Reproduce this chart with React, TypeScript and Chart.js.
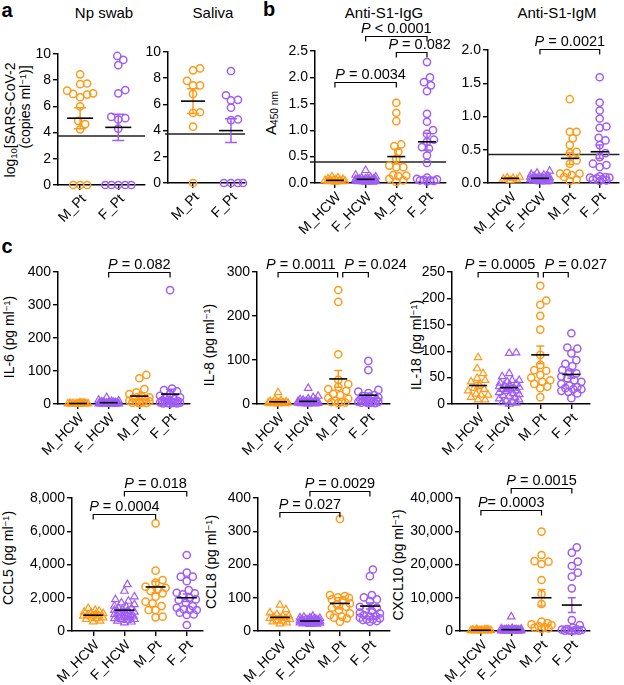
import React, { useEffect, useRef } from "react";
import { Chart, registerables } from "chart.js";
Chart.register(...registerables);

const FONT = "'Liberation Sans', Arial, Helvetica, sans-serif";
const ORANGE = "#FF9A17";
const PURPLE = "#9F5CF6";

const GROUPS_A = ["M_Pt", "F_Pt"];
const GROUPS_C = ["M_HCW", "F_HCW", "M_Pt", "F_Pt"];

// ---- a: viral load log10 copies/ml ----
const NP_M_PT = [8.45, 7.7, 7.75, 7.2, 7.0, 6.95, 6.9, 6.7, 6.0, 4.9, 4.65, 4.25, 0, 0, 0];
const NP_F_PT = [9.85, 9.55, 9.15, 7.25, 7.0, 5.2, 5.1, 5.0, 4.3, 0, 0, 0, 0, 0];
const NP_MEAN = [5.1, 4.4];
const NP_SEM = [0.8, 1.0];
const SAL_M_PT = [8.75, 8.6, 7.8, 7.45, 7.45, 6.8, 5.4, 5.35, 4.3, 0];
const SAL_F_PT = [8.55, 6.7, 6.35, 6.3, 5.75, 4.85, 4.8, 0, 0, 0, 0];
const SAL_MEAN = [6.25, 4.0];
const SAL_SEM = [0.95, 0.9];

// ---- b: antibodies A450 ----
const IGG_M_HCW = [0.02, 0.03, 0.04, 0.05, 0.06, 0.03, 0.08, 0.1, 0.05, 0.04, 0.07, 0.12, 0.06, 0.03, 0.05];
const IGG_F_HCW = [0.02, 0.03, 0.04, 0.05, 0.06, 0.07, 0.08, 0.03, 0.05, 0.1, 0.12, 0.04, 0.06, 0.08, 0.15, 0.24, 0.03, 0.05, 0.07, 0.09, 0.02, 0.04, 0.06, 0.11, 0.05, 0.03, 0.08, 0.06];
const IGG_M_PT = [1.52, 1.33, 1.17, 0.73, 0.7, 0.59, 0.46, 0.33, 0.3, 0.3, 0.14, 0.13, 0.15, 0.08, 0.05, 0.02];
const IGG_F_PT = [2.29, 2.0, 1.91, 1.85, 1.74, 1.31, 1.16, 1.0, 0.93, 0.82, 0.78, 0.68, 0.65, 0.52, 0.38, 0.1, 0.08, 0.06, 0.05, 0.04, 0.03, 0.05, 0.07];
const IGG_MEAN = [0.05, 0.07, 0.5, 0.78];
const IGG_SEM = [0.01, 0.01, 0.14, 0.16];

const IGM_M_HCW = [0.05, 0.07, 0.08, 0.06, 0.09, 0.04];
const IGM_F_HCW = [0.02, 0.04, 0.05, 0.06, 0.07, 0.08, 0.1, 0.12, 0.15, 0.18, 0.03, 0.05, 0.06, 0.08, 0.09, 0.11, 0.04, 0.06, 0.07, 0.13, 0.02, 0.05, 0.08, 0.1, 0.06, 0.04];
const IGM_M_PT = [1.26, 0.77, 0.77, 0.67, 0.57, 0.47, 0.45, 0.34, 0.29, 0.14, 0.15, 0.14, 0.05, 0.03, 0.09, 0.12];
const IGM_F_PT = [1.59, 1.21, 1.09, 0.97, 0.85, 0.83, 0.68, 0.64, 0.57, 0.45, 0.39, 0.29, 0.27, 0.24, 0.09, 0.07, 0.05, 0.08, 0.03, 0.06, 0.1, 0.04, 0.08];
const IGM_MEAN = [0.07, 0.07, 0.37, 0.47];
const IGM_SEM = [0.008, 0.01, 0.09, 0.1];

// ---- c: cytokines pg/ml ----
const IL6_M_HCW = [0.5, 1, 1.5, 2, 0.8, 1.2, 2.5, 3, 0.3, 1.8, 0.6, 2.2, 1, 4, 0.7, 1.5];
const IL6_F_HCW = [0.5, 1, 2, 3, 1.5, 0.8, 4, 5, 2.5, 1.2, 6, 8, 3.5, 0.6, 1.8, 10, 2, 1, 0.4, 7, 3, 12, 1.5, 2.2, 0.9, 20, 4.5, 1.1, 2.8, 0.7];
const IL6_M_PT = [88, 78, 45, 35, 30, 25, 20, 18, 15, 12, 10, 8, 6, 5, 4, 3, 2];
const IL6_F_PT = [345, 47, 42, 38, 30, 25, 20, 18, 15, 12, 10, 9, 8, 7, 6, 5, 4, 3, 3, 2, 2, 1];
const IL6_MEAN = [1.5, 4, 24, 30];
const IL6_SEM = [0.3, 1, 7, 15];

const IL8_M_HCW = [1, 2, 3, 0.5, 4, 5, 2.5, 1.5, 6, 8, 3, 10, 26, 2, 1, 4];
const IL8_F_HCW = [1, 2, 3, 4, 5, 0.5, 1.5, 2.5, 6, 7, 8, 3.5, 10, 12, 15, 18, 36, 2, 1, 4, 3, 5, 2, 9, 1, 0.5, 6, 3, 2, 4];
const IL8_M_PT = [259, 232, 113, 55, 45, 39, 34, 30, 23, 20, 14, 12, 8, 5, 4, 3, 2];
const IL8_F_PT = [98, 77, 32, 28, 25, 20, 18, 15, 13, 12, 10, 9, 8, 7, 6, 5, 5, 4, 3, 3, 2, 2];
const IL8_MEAN = [5, 6, 57, 20];
const IL8_SEM = [1.6, 1.5, 19, 5];

const IL18_M_HCW = [88, 67, 58, 49, 45, 42, 36, 30, 19, 17, 17, 13, 8, 8, 28, 25];
const IL18_F_HCW = [97, 96, 58, 52, 45, 45, 42, 40, 38, 35, 33, 32, 30, 28, 27, 25, 24, 22, 20, 18, 16, 15, 12, 10, 8, 6, 5, 3, 2, 0, 30, 36];
const IL18_M_PT = [224, 196, 188, 167, 141, 93, 74, 64, 63, 55, 42, 38, 33, 30, 13, 50, 45];
const IL18_F_PT = [134, 107, 105, 96, 83, 76, 72, 64, 58, 52, 49, 42, 35, 30, 28, 28, 25, 23, 20, 11, 45, 38, 60, 32];
const IL18_MEAN = [35, 31, 93, 56];
const IL18_SEM = [5.5, 4, 17, 7];

const CCL5_M_HCW = [1365, 1200, 1100, 1000, 950, 900, 850, 800, 1050, 1150, 700, 750, 600, 560, 1250, 900];
const CCL5_F_HCW = [2800, 2400, 2065, 1900, 1800, 1700, 1600, 1500, 1400, 1300, 1250, 1200, 1150, 1100, 1050, 1000, 950, 900, 850, 800, 750, 700, 650, 600, 550, 500, 1350, 1450, 1000, 900, 800, 700];
const CCL5_M_PT = [6478, 3629, 3068, 2907, 2667, 2600, 2265, 2400, 2065, 1764, 1664, 1500, 1263, 1263, 862, 822, 2500];
const CCL5_F_PT = [4571, 3508, 3268, 3268, 3000, 2466, 2265, 2300, 1864, 1900, 1700, 1263, 1263, 1300, 1400, 962, 1000, 1100, 361, 2000, 2200, 1500];
const CCL5_MEAN = [950, 1250, 2650, 2000];
const CCL5_SEM = [60, 100, 350, 230];

const CCL8_M_HCW = [78, 65, 55, 50, 45, 42, 40, 38, 35, 32, 30, 28, 25, 22, 45, 38];
const CCL8_F_HCW = [45, 42, 40, 38, 36, 35, 34, 33, 32, 31, 30, 29, 28, 27, 26, 25, 24, 23, 22, 21, 20, 30, 28, 35, 33, 25, 27, 29, 31, 34, 22, 40];
const CCL8_M_PT = [337, 108, 105, 101, 93, 83, 80, 73, 63, 53, 48, 43, 40, 38, 28, 100, 95, 70];
const CCL8_F_PT = [185, 165, 108, 101, 95, 90, 73, 65, 60, 53, 48, 43, 40, 38, 35, 33, 30, 28, 45, 55, 70, 35];
const CCL8_MEAN = [41, 30, 83, 75];
const CCL8_SEM = [3, 1.5, 17, 9];

const CXCL10_M_HCW = [100, 150, 200, 250, 300, 350, 400, 120, 180, 220, 280, 80, 60, 500, 160, 240];
const CXCL10_F_HCW = [4300, 800, 600, 500, 400, 350, 300, 250, 200, 150, 100, 80, 60, 700, 450, 380, 320, 280, 220, 180, 130, 90, 70, 50, 550, 420, 260, 190, 140, 110, 75, 40];
const CXCL10_M_PT = [29900, 22850, 20850, 20150, 15340, 11130, 8120, 2800, 2400, 1800, 1200, 800, 1000, 600, 1500, 2000, 21000];
const CXCL10_F_PT = [25160, 23560, 20850, 19550, 17550, 16340, 12840, 3300, 1800, 1000, 600, 400, 300, 200, 150, 100, 80, 60, 500];
const CXCL10_MEAN = [220, 400, 10000, 7800];
const CXCL10_SEM = [30, 140, 2500, 2200];

type Bracket = { a: number; b: number; y: number; rest: string; tx?: number };
type Geo = { left: number; top: number; bottom: number; right: number; xMin: number; xMax: number };
type PanelCfg = {
  key: string;
  groups: string[];
  series: number[][];
  means: number[];
  sems: number[];
  yMax: number;
  step: number;
  fmt: (v: number) => string;
  geo: Geo;
  brackets: Bracket[];
  threshold?: { value: number; dx0: number; dx1: number };
  half: number;
  cap: number;
  spread: number;
};

const plain = (v: number) => String(v);
const oneDec = (v: number) => v.toFixed(1);
const comma = (v: number) => v.toLocaleString("en-US");

const PANELS: PanelCfg[] = [
  { key: "np", groups: GROUPS_A, series: [NP_M_PT, NP_F_PT], means: NP_MEAN, sems: NP_SEM, yMax: 10, step: 2, fmt: plain,
    geo: { left: 58, top: 54, bottom: 185, right: 145, xMin: 0.42, xMax: 2.7 }, brackets: [],
    threshold: { value: 3.75, dx0: 0, dx1: 0 }, half: 13, cap: 6, spread: 13 },
  { key: "sal", groups: GROUPS_A, series: [SAL_M_PT, SAL_F_PT], means: SAL_MEAN, sems: SAL_SEM, yMax: 10, step: 2, fmt: plain,
    geo: { left: 168, top: 52, bottom: 183, right: 245, xMin: 0.34, xMax: 2.37 }, brackets: [],
    threshold: { value: 3.75, dx0: -3, dx1: 0 }, half: 12, cap: 6, spread: 12 },
  { key: "igg", groups: GROUPS_C, series: [IGG_M_HCW, IGG_F_HCW, IGG_M_PT, IGG_F_PT], means: IGG_MEAN, sems: IGG_SEM, yMax: 2.5, step: 0.5, fmt: oneDec,
    geo: { left: 315, top: 51, bottom: 183, right: 446, xMin: 0.35, xMax: 4.62 },
    brackets: [
      { a: 1, b: 3, y: 1.91, rest: " = 0.0034", tx: 5 },
      { a: 2, b: 4, y: 2.78, rest: " < 0.0001" },
      { a: 3, b: 4, y: 2.48, rest: " = 0.082", tx: 8 },
    ],
    threshold: { value: 0.4, dx0: -5, dx1: 0 }, half: 9, cap: 4, spread: 10 },
  { key: "igm", groups: GROUPS_C, series: [IGM_M_HCW, IGM_F_HCW, IGM_M_PT, IGM_F_PT], means: IGM_MEAN, sems: IGM_SEM, yMax: 2.0, step: 0.5, fmt: oneDec,
    geo: { left: 488, top: 50, bottom: 183, right: 623, xMin: 0.26, xMax: 4.63 },
    brackets: [{ a: 2, b: 4, y: 2.02, rest: " = 0.0021" }],
    threshold: { value: 0.43, dx0: -1, dx1: 1 }, half: 9, cap: 4, spread: 10 },
  { key: "il6", groups: GROUPS_C, series: [IL6_M_HCW, IL6_F_HCW, IL6_M_PT, IL6_F_PT], means: IL6_MEAN, sems: IL6_SEM, yMax: 400, step: 100, fmt: plain,
    geo: { left: 58, top: 272, bottom: 404, right: 190, xMin: 0.35, xMax: 4.65 },
    brackets: [{ a: 2, b: 4, y: 400, rest: " = 0.082" }], half: 9, cap: 4, spread: 10 },
  { key: "il8", groups: GROUPS_C, series: [IL8_M_HCW, IL8_F_HCW, IL8_M_PT, IL8_F_PT], means: IL8_MEAN, sems: IL8_SEM, yMax: 300, step: 100, fmt: plain,
    geo: { left: 257, top: 272, bottom: 404, right: 390, xMin: 0.3, xMax: 4.72 },
    brackets: [
      { a: 1, b: 2.98, y: 300, rest: " = 0.0011", tx: -7 },
      { a: 3.15, b: 4, y: 300, rest: " = 0.024", tx: 20 },
    ], half: 9, cap: 4, spread: 10 },
  { key: "il18", groups: GROUPS_C, series: [IL18_M_HCW, IL18_F_HCW, IL18_M_PT, IL18_F_PT], means: IL18_MEAN, sems: IL18_SEM, yMax: 250, step: 50, fmt: plain,
    geo: { left: 452, top: 272, bottom: 404, right: 590, xMin: 0.16, xMax: 4.6 },
    brackets: [
      { a: 1, b: 2.93, y: 250, rest: " = 0.0005", tx: -8 },
      { a: 3.1, b: 3.9, y: 250, rest: " = 0.027", tx: 20 },
    ], half: 9, cap: 4, spread: 10 },
  { key: "ccl5", groups: GROUPS_C, series: [CCL5_M_HCW, CCL5_F_HCW, CCL5_M_PT, CCL5_F_PT], means: CCL5_MEAN, sems: CCL5_SEM, yMax: 8000, step: 2000, fmt: comma,
    geo: { left: 72, top: 498, bottom: 631, right: 203, xMin: 0.32, xMax: 4.52 },
    brackets: [
      { a: 1, b: 3, y: 7040, rest: " = 0.0004" },
      { a: 2, b: 4, y: 8420, rest: " = 0.018" },
    ], half: 10, cap: 4, spread: 10 },
  { key: "ccl8", groups: GROUPS_C, series: [CCL8_M_HCW, CCL8_F_HCW, CCL8_M_PT, CCL8_F_PT], means: CCL8_MEAN, sems: CCL8_SEM, yMax: 400, step: 100, fmt: plain,
    geo: { left: 258, top: 498, bottom: 631, right: 390, xMin: 0.27, xMax: 4.67 },
    brackets: [
      { a: 1, b: 3, y: 358, rest: " = 0.027" },
      { a: 2, b: 4, y: 421, rest: " = 0.0029" },
    ], half: 10, cap: 4, spread: 10 },
  { key: "cxcl10", groups: GROUPS_C, series: [CXCL10_M_HCW, CXCL10_F_HCW, CXCL10_M_PT, CXCL10_F_PT], means: CXCL10_MEAN, sems: CXCL10_SEM, yMax: 40000, step: 10000, fmt: comma,
    geo: { left: 460, top: 498, bottom: 631, right: 590, xMin: 0.31, xMax: 4.6 },
    brackets: [
      { a: 1, b: 3, y: 36400, rest: "= 0.0003" },
      { a: 2, b: 4, y: 43000, rest: " = 0.0015" },
    ], half: 10, cap: 4, spread: 10 },
];

const colorOf = (g: string) => (g.startsWith("M_") ? ORANGE : PURPLE);

// Deterministic beeswarm layout (pixel space), returns x offsets in axis units
function swarm(values: number[], yPx: number, xPx: number, d: number, maxHalf: number): number[] {
  const order = values.map((_, i) => i).sort((a, b) => values[a] - values[b]);
  const placed: { x: number; y: number }[] = [];
  const out = new Array(values.length).fill(0);
  for (const i of order) {
    const yp = values[i] * yPx;
    let best = 0;
    let bestScore = -Infinity;
    for (let k = 0; k <= maxHalf * 2; k++) {
      const dx = (k % 2 === 1 ? 1 : -1) * Math.ceil(k / 2);
      let minD = Infinity;
      for (const q of placed) {
        const dd = Math.hypot(q.x - dx, q.y - yp);
        if (dd < minD) minD = dd;
      }
      if (minD >= d) {
        best = dx;
        break;
      }
      if (minD > bestScore) {
        bestScore = minD;
        best = dx;
      }
    }
    placed.push({ x: best, y: yp });
    out[i] = best / xPx;
  }
  return out;
}

function overlay(p: PanelCfg) {
  return {
    id: "ov_" + p.key,
    beforeDatasetsDraw(chart: any) {
      if (!p.threshold) return;
      const { ctx, chartArea: ca, scales } = chart;
      const yy = scales.y.getPixelForValue(p.threshold.value);
      ctx.save();
      ctx.strokeStyle = "#222";
      ctx.lineWidth = 1.5;
      ctx.beginPath();
      ctx.moveTo(ca.left + p.threshold.dx0, yy);
      ctx.lineTo(ca.right + p.threshold.dx1, yy);
      ctx.stroke();
      ctx.restore();
    },
    afterDatasetsDraw(chart: any) {
      const { ctx, scales } = chart;
      const x = scales.x;
      const y = scales.y;
      ctx.save();
      p.means.forEach((m, i) => {
        const cx = x.getPixelForValue(i + 1);
        const my = y.getPixelForValue(m);
        const hi = y.getPixelForValue(m + p.sems[i]);
        const lo = y.getPixelForValue(Math.max(0, m - p.sems[i]));
        ctx.strokeStyle = colorOf(p.groups[i]);
        ctx.lineWidth = 1.5;
        ctx.beginPath();
        ctx.moveTo(cx, hi);
        ctx.lineTo(cx, lo);
        ctx.moveTo(cx - p.cap, hi);
        ctx.lineTo(cx + p.cap, hi);
        ctx.moveTo(cx - p.cap, lo);
        ctx.lineTo(cx + p.cap, lo);
        ctx.stroke();
        ctx.strokeStyle = "#000";
        ctx.lineWidth = 1.6;
        ctx.beginPath();
        ctx.moveTo(cx - p.half, my);
        ctx.lineTo(cx + p.half, my);
        ctx.stroke();
      });
      p.brackets.forEach((b) => {
        const x1 = x.getPixelForValue(b.a);
        const x2 = x.getPixelForValue(b.b);
        const yy = Math.round(y.getPixelForValue(b.y)) + 0.5;
        ctx.strokeStyle = "#000";
        ctx.lineWidth = 1.2;
        ctx.beginPath();
        ctx.moveTo(x1, yy + 5);
        ctx.lineTo(x1, yy);
        ctx.lineTo(x2, yy);
        ctx.lineTo(x2, yy + 5);
        ctx.stroke();
        ctx.fillStyle = "#000";
        ctx.textBaseline = "alphabetic";
        const fi = `italic 14.5px ${FONT}`;
        const fn = `14.5px ${FONT}`;
        ctx.font = fi;
        const w1 = ctx.measureText("P").width;
        ctx.font = fn;
        const w2 = ctx.measureText(b.rest).width;
        const sx = (x1 + x2) / 2 - (w1 + w2) / 2 + (b.tx || 0);
        ctx.font = fi;
        ctx.fillText("P", sx, yy - 4);
        ctx.font = fn;
        ctx.fillText(b.rest, sx + w1, yy - 4);
      });
      ctx.restore();
    },
  };
}

function PanelChart({ p }: { p: PanelCfg }) {
  const ref = useRef<HTMLCanvasElement | null>(null);
  const g = p.geo;
  const cl = Math.max(0, g.left - 60);
  const ct = Math.max(0, g.top - 46);
  const cr = Math.min(624, g.right + 45);
  const cb = Math.min(685, g.bottom + 54);
  const W = cr - cl;
  const H = cb - ct;

  useEffect(() => {
    if (!ref.current) return;
    const yPx = (g.bottom - g.top) / p.yMax;
    const xPx = (g.right - g.left) / (g.xMax - g.xMin);
    const datasets = p.series.map((vals, i) => {
      const offs = swarm(vals, yPx, xPx, 7, p.spread);
      const hcw = p.groups[i].includes("HCW");
      return {
        label: p.groups[i],
        data: vals.map((v, j) => ({ x: i + 1 + offs[j], y: v })),
        pointStyle: hcw ? "triangle" : "circle",
        pointRadius: hcw ? 4.3 : 3.6,
        pointBorderWidth: hcw ? 1.2 : 1.5,
        pointBorderColor: colorOf(p.groups[i]),
        pointBackgroundColor: "rgba(0,0,0,0)",
        showLine: false,
        clip: false as any,
      };
    });
    const tickFont = { family: FONT, size: 14 };
    const chart = new Chart(ref.current, {
      type: "scatter",
      data: { datasets: datasets as any },
      options: {
        animation: false,
        responsive: false,
        maintainAspectRatio: false,
        events: [],
        layout: { padding: { left: 0, top: g.top - ct, right: cr - g.right, bottom: 0 } },
        plugins: { legend: { display: false }, tooltip: { enabled: false } },
        scales: {
          x: {
            type: "linear",
            min: g.xMin,
            max: g.xMax,
            afterBuildTicks: (s: any) => {
              s.ticks = p.groups.map((_, i) => ({ value: i + 1 }));
            },
            ticks: {
              autoSkip: false,
              minRotation: 45,
              maxRotation: 45,
              padding: 1,
              labelOffset: 4,
              color: "#000",
              font: tickFont,
              callback: (v: any) => p.groups[Math.round(Number(v)) - 1] ?? "",
            },
            grid: { display: true, drawOnChartArea: false, drawTicks: true, tickLength: 5, color: "#000", lineWidth: 1.4 },
            border: { display: true, color: "#000", width: 1.5 },
            afterFit: (s: any) => {
              s.height = cb - g.bottom;
            },
          },
          y: {
            type: "linear",
            min: 0,
            max: p.yMax,
            ticks: {
              stepSize: p.step,
              padding: 2,
              color: "#000",
              font: tickFont,
              callback: (v: any) => p.fmt(Number(v)),
            },
            grid: { display: true, drawOnChartArea: false, drawTicks: true, tickLength: 5, color: "#000", lineWidth: 1.4 },
            border: { display: true, color: "#000", width: 1.5 },
            afterFit: (s: any) => {
              s.width = g.left - cl;
            },
          },
        },
      },
      plugins: [overlay(p) as any],
    });
    return () => chart.destroy();
  }, []);

  return (
    <canvas
      ref={ref}
      width={W}
      height={H}
      style={{ position: "absolute", left: cl, top: ct, width: W, height: H }}
    />
  );
}

type Lbl = { x: number; y: number; node: React.ReactNode; size?: number; rot?: boolean; bold?: boolean };

const sup = (t: string) => <sup style={{ fontSize: "0.68em", verticalAlign: "0.45em", lineHeight: 0 }}>{t}</sup>;
const sub = (t: string) => <sub style={{ fontSize: "0.68em", verticalAlign: "-0.25em", lineHeight: 0 }}>{t}</sub>;

const LABELS: Lbl[] = [
  { x: 7, y: 10, node: "a", size: 20, bold: true },
  { x: 269, y: 9, node: "b", size: 20, bold: true },
  { x: 7, y: 246, node: "c", size: 20, bold: true },
  { x: 104, y: 12, node: "Np swab", size: 15 },
  { x: 213, y: 12, node: "Saliva", size: 15 },
  { x: 384, y: 12, node: "Anti-S1-IgG", size: 15 },
  { x: 557, y: 12, node: "Anti-S1-IgM", size: 15 },
  { x: 10, y: 120, rot: true, node: <>log{sub("10")}[SARS-CoV-2</> },
  { x: 25, y: 107, rot: true, node: <>(copies ml{sup("−1")})]</> },
  { x: 270, y: 113, rot: true, node: <>A{sub("450 nm")}</>, size: 15 },
  { x: 9, y: 337, rot: true, node: <>IL-6 (pg ml{sup("−1")})</> },
  { x: 209, y: 345, rot: true, node: <>IL-8 (pg ml{sup("−1")})</> },
  { x: 416, y: 345, rot: true, node: <>IL-18 (pg ml{sup("−1")})</> },
  { x: 8, y: 558, rot: true, node: <>CCL5 (pg ml{sup("−1")})</> },
  { x: 211, y: 562, rot: true, node: <>CCL8 (pg ml{sup("−1")})</> },
  { x: 398, y: 565, rot: true, node: <>CXCL10 (pg ml{sup("−1")})</> },
];

export default function App() {
  return (
    <div
      style={{
        position: "absolute",
        left: 0,
        top: 0,
        width: 624,
        height: 685,
        background: "#fff",
        fontFamily: FONT,
        color: "#000",
        overflow: "hidden",
      }}
    >
      {LABELS.map((l, i) => (
        <div
          key={i}
          style={{
            position: "absolute",
            left: l.x,
            top: l.y,
            fontSize: l.size ?? 14,
            fontWeight: l.bold ? 700 : 400,
            whiteSpace: "nowrap",
            lineHeight: 1,
            transform: `translate(-50%, -50%)${l.rot ? " rotate(-90deg)" : ""}`,
          }}
        >
          {l.node}
        </div>
      ))}
      {PANELS.map((p) => (
        <PanelChart key={p.key} p={p} />
      ))}
    </div>
  );
}
